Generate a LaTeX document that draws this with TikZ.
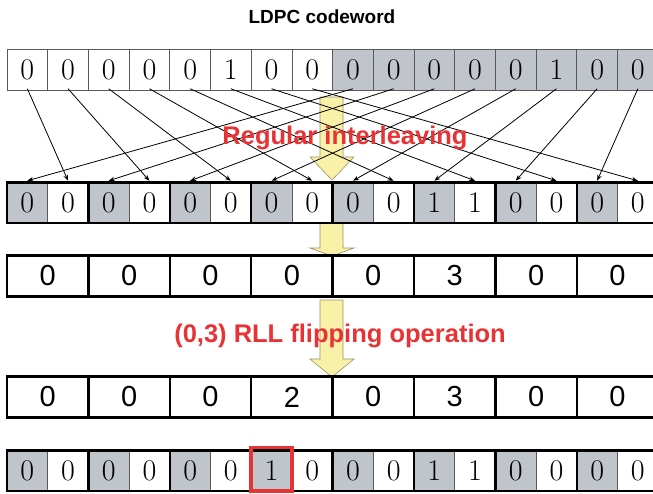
\documentclass[tikz,border=0pt]{standalone}
\usepackage{fontspec}
\newfontfamily\arialfont{Liberation Sans}
\usetikzlibrary{arrows.meta}

\definecolor{cellgray}{RGB}{192,196,203}
\definecolor{flipred}{RGB}{232,50,52}
\definecolor{shaftyellow}{RGB}{250,241,168}
\definecolor{shaftline}{RGB}{150,145,100}

\tikzset{
  bitcell/.style={draw=black!65, line width=0.8pt, minimum width=40.7pt, minimum height=40.5pt,
    inner sep=0pt, outer sep=0pt, font=\fontsize{30}{30}\selectfont},
  runcell/.style={draw=black, line width=2.5pt, minimum width=81.4pt, minimum height=41pt,
    inner sep=0pt, outer sep=0pt, font=\arialfont\fontsize{29}{29}\selectfont},
  pairbox/.style={draw=black, line width=2.5pt},
  link/.style={line width=0.8pt, -{Stealth[length=6pt,width=4.5pt]}},
  bigarrow/.style={fill=shaftyellow, draw=shaftline, line width=0.6pt},
  redtext/.style={text=flipred, font=\arialfont\bfseries\fontsize{25.5}{25.5}\selectfont, anchor=base}
}

\begin{document}
\begin{tikzpicture}[x=1pt, y=-1pt]

	\useasboundingbox (0,0) rectangle (653,493);
	\clip (0,0) rectangle (653,493);

% yellow arrows (behind the rows)
	\foreach \top/\neck/\tip in {97/157/180, 220/248/256, 300/359/377}
		\draw[bigarrow] (320,\top) -- (343,\top) -- (343,\neck) -- (354,\neck)
			-- (332,\tip) -- (310,\neck) -- (320,\neck) -- cycle;

% LDPC codeword
	\foreach \v [count=\i from 0] in {0,0,0,0,0,1,0,0,0,0,0,0,0,1,0,0} {
		\ifnum\i<8 \def\shade{white}\else\def\shade{cellgray}\fi
		\pgfmathsetmacro\cx{27.35+40.7*\i}
		\node[bitcell, fill=\shade] (t\i) at (\cx,70) {\v};
	}

% interleaved bits
	\foreach \v [count=\i from 0] in {0,0,0,0,0,0,0,0,0,0,1,1,0,0,0,0} {
		\ifodd\i \def\shade{white}\else\def\shade{cellgray}\fi
		\pgfmathsetmacro\cx{27.35+40.7*\i}
		\node[bitcell, fill=\shade] (r\i) at (\cx,202.5) {\v};
	}

% run lengths
	\foreach \v [count=\i from 0] in {0,0,0,0,0,3,0,0} {
		\pgfmathsetmacro\cx{47.7+81.4*\i}
		\node[runcell, fill=white] (c\i) at (\cx,276) {\v};
	}

% run lengths after flipping
	\foreach \v [count=\i from 0] in {0,0,0,2,0,3,0,0} {
		\pgfmathsetmacro\cx{47.7+81.4*\i}
		\node[runcell, fill=white] (f\i) at (\cx,397) {\v};
	}

% flipped bits
	\foreach \v [count=\i from 0] in {0,0,0,0,0,0,1,0,0,0,1,1,0,0,0,0} {
		\ifodd\i \def\shade{white}\else\def\shade{cellgray}\fi
		\pgfmathsetmacro\cx{27.35+40.7*\i}
		\node[bitcell, fill=\shade] (b\i) at (\cx,470.5) {\v};
	}

% thick pair borders
	\foreach \p in {0,...,7} {
		\pgfmathtruncatemacro\a{2*\p}
		\pgfmathtruncatemacro\b{2*\p+1}
		\draw[pairbox] (r\a.north west) rectangle (r\b.south east);
		\draw[pairbox] (b\a.north west) rectangle (b\b.south east);
	}

% interleaving links
	\foreach \i in {0,...,7} {
		\pgfmathtruncatemacro\j{2*\i+1}
		\draw[link] ([yshift=1.5pt]t\i.south) -- ([yshift=1.5pt]r\j.north);
	}
	\foreach \i in {8,...,15} {
		\pgfmathtruncatemacro\j{2*(\i-8)}
		\draw[link] ([yshift=1.5pt]t\i.south) -- ([yshift=1.5pt]r\j.north);
	}

% flipped bit
	\draw[flipred, line width=3.5pt] ([yshift=3pt]b6.north west) rectangle (b6.south east);

% labels
	\node[font=\arialfont\bfseries\fontsize{19}{19}\selectfont, anchor=base] (title) at (322,23) {LDPC codeword};
	\node[redtext] (interleave) at (345,144) {Regular interleaving};
	\node[redtext] (flipping) at (340,342) {(0,3) RLL flipping operation};

\end{tikzpicture}
\end{document}
